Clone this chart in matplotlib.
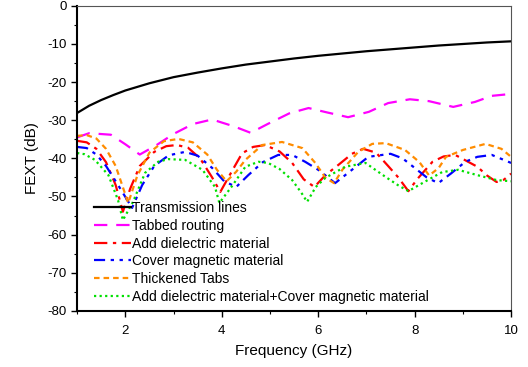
import numpy as np
import matplotlib.pyplot as plt
from matplotlib.ticker import MultipleLocator

plt.rcParams['font.family'] = ['Liberation Sans', 'DejaVu Sans']
plt.rcParams['axes.unicode_minus'] = False

# Transmission lines
f_tl = [1.0, 1.25, 1.5, 1.75, 2.0, 2.5, 3.0, 3.5, 4.0, 4.5, 5.0, 5.5, 6.0, 6.5, 7.0, 7.5, 8.0, 8.5, 9.0, 9.5, 10.0]
v_tl = [-28.1, -26.2, -24.7, -23.4, -22.2, -20.3, -18.7, -17.5, -16.4, -15.4, -14.6, -13.8, -13.1, -12.5, -11.9, -11.4, -10.9, -10.4, -10.0, -9.6, -9.3]

# Tabbed routing
f_tab = [1.0, 1.25, 1.7, 2.0, 2.3, 2.65, 3.0, 3.4, 3.8, 4.25, 4.6, 4.95, 5.4, 5.8, 6.2, 6.62, 7.05, 7.45, 7.9, 8.3, 8.8, 9.25, 9.6, 10.0]
v_tab = [-34.5, -33.4, -33.8, -36.3, -39.0, -36.5, -33.6, -31.0, -29.8, -31.6, -33.3, -31.0, -28.2, -26.8, -28.0, -29.2, -27.8, -25.5, -24.5, -25.0, -26.5, -25.2, -23.6, -23.1]

# Add dielectric material
f_die = [1.0, 1.2, 1.4, 1.6, 1.8, 1.95, 2.1, 2.3, 2.6, 2.85, 3.07, 3.3, 3.55, 3.8, 3.97, 4.2, 4.42, 4.65, 4.9, 5.2, 5.46, 5.7, 5.92, 6.15, 6.42, 6.7, 6.93, 7.2, 7.45, 7.66, 7.87, 8.05, 8.37, 8.6, 8.84, 9.05, 9.3, 9.5, 9.7, 9.85, 10.0]
v_die = [-35.4, -35.8, -37.5, -41.0, -47.0, -54.0, -48.0, -42.0, -38.3, -36.8, -36.5, -37.2, -40.0, -45.0, -48.8, -43.6, -38.7, -37.0, -36.5, -38.2, -41.2, -45.5, -47.5, -44.4, -41.7, -38.8, -37.5, -38.5, -42.0, -45.0, -48.6, -45.5, -40.9, -39.5, -39.1, -40.5, -42.2, -44.5, -46.2, -45.6, -44.0]

# Cover magnetic material
f_mag = [1.0, 1.2, 1.4, 1.6, 1.85, 2.14, 2.35, 2.6, 2.9, 3.24, 3.5, 3.8, 4.05, 4.3, 4.55, 4.85, 5.17, 5.46, 5.73, 6.0, 6.35, 6.7, 7.04, 7.5, 7.75, 8.0, 8.25, 8.49, 8.75, 9.05, 9.3, 9.6, 10.0]
v_mag = [-37.0, -37.3, -39.0, -42.0, -47.0, -53.0, -47.0, -42.0, -39.2, -38.3, -39.3, -42.5, -46.0, -47.5, -44.4, -41.0, -39.1, -39.1, -40.9, -43.0, -46.5, -43.0, -39.6, -38.8, -40.0, -42.5, -45.0, -46.5, -44.0, -40.9, -39.6, -39.1, -41.2]

# Thickened Tabs
f_thk = [1.0, 1.2, 1.4, 1.6, 1.8, 2.06, 2.25, 2.5, 2.8, 3.1, 3.4, 3.7, 3.9, 4.1, 4.3, 4.49, 4.84, 5.25, 5.67, 5.94, 6.15, 6.33, 6.5, 6.83, 7.12, 7.4, 7.8, 8.1, 8.3, 8.5, 8.65, 9.0, 9.47, 9.8, 10.0]
v_thk = [-34.1, -33.9, -34.8, -37.5, -42.0, -51.7, -44.5, -38.5, -35.5, -34.9, -35.8, -39.0, -43.0, -46.0, -43.5, -40.4, -36.5, -35.7, -37.3, -41.2, -45.1, -46.5, -43.0, -38.3, -36.2, -36.0, -37.8, -41.0, -44.5, -42.5, -39.6, -37.8, -36.2, -37.5, -39.6]

# Add dielectric material+Cover magnetic material
f_cmb = [1.0, 1.15, 1.37, 1.65, 1.85, 1.95, 2.16, 2.41, 2.68, 2.89, 3.24, 3.6, 3.86, 3.95, 4.2, 4.49, 4.76, 4.96, 5.2, 5.46, 5.65, 5.77, 5.95, 6.15, 6.56, 6.98, 7.4, 7.65, 7.87, 8.2, 8.57, 8.9, 9.3, 9.7, 10.0]
v_cmb = [-38.6, -38.9, -40.4, -44.4, -51.0, -56.2, -51.4, -43.8, -40.9, -40.2, -40.4, -43.0, -47.5, -51.7, -47.5, -42.2, -40.9, -41.2, -42.8, -45.7, -49.0, -51.4, -47.5, -45.1, -42.2, -41.2, -44.9, -47.0, -48.6, -46.2, -43.6, -43.0, -44.4, -45.7, -46.0]

fig = plt.figure(figsize=(5.28, 3.67), dpi=100)
ax = fig.add_axes([0.146, 0.153, 0.822, 0.831])

ax.plot(f_tl, v_tl, color='black', lw=1.6, label='Transmission lines')
ax.plot(f_tab, v_tab, color='#ff00ff', lw=1.6, dashes=(6, 4), label='Tabbed routing')
ax.plot(f_die, v_die, color='#ff0000', lw=1.6, dashes=(6, 2.5, 1.5, 2.5), label='Add dielectric material')
ax.plot(f_mag, v_mag, color='#0000ff', lw=1.6, dashes=(5, 2.5, 1.5, 2.5, 1.5, 2.5), label='Cover magnetic material')
ax.plot(f_thk, v_thk, color='#ff8c00', lw=1.6, dashes=(2.5, 1.8), label='Thickened Tabs')
ax.plot(f_cmb, v_cmb, color='#00e000', lw=1.6, dashes=(1, 1.5), label='Add dielectric material+Cover magnetic material')

ax.set_xlim(1, 10)
ax.set_ylim(-80, 0)
ax.xaxis.set_major_locator(MultipleLocator(2))
ax.xaxis.set_minor_locator(MultipleLocator(1))
ax.yaxis.set_major_locator(MultipleLocator(10))
ax.yaxis.set_minor_locator(MultipleLocator(5))
ax.tick_params(which='major', direction='out', length=4, width=1, labelsize=9.5, colors='black')
ax.tick_params(which='minor', direction='out', length=2.5, width=0.8)
ax.tick_params(axis='x', pad=6)

for s in ['left', 'bottom']:
    ax.spines[s].set_linewidth(1.5)
for s in ['top', 'right']:
    ax.spines[s].set_linewidth(0.8)
    ax.spines[s].set_color('#555555')

ax.set_xlabel('Frequency (GHz)', fontsize=11, labelpad=5)
ax.set_ylabel('FEXT (dB)', fontsize=11, labelpad=6)

ax.legend(loc='upper left', bbox_to_anchor=(0.04, 0.36), frameon=False,
          fontsize=10, handlelength=2.6, handletextpad=0.1, labelspacing=0.27,
          borderaxespad=0, borderpad=0)

fig.savefig('out.png', dpi=100)
